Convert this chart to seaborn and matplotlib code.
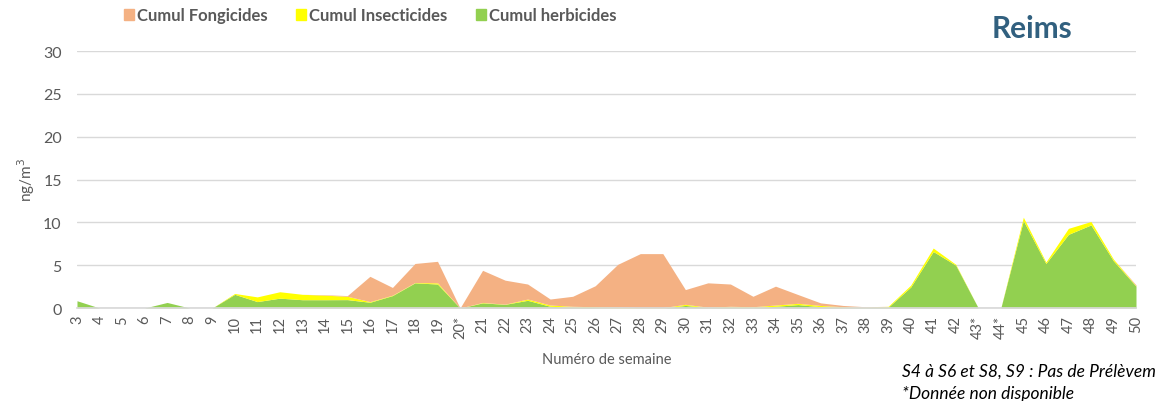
import numpy as np
import pandas as pd
import matplotlib.pyplot as plt
import seaborn as sns

# Weeks (x categories), * = data not available
weeks = ["3", "4", "5", "6", "7", "8", "9", "10", "11", "12", "13", "14", "15",
         "16", "17", "18", "19", "20*", "21", "22", "23", "24", "25", "26", "27",
         "28", "29", "30", "31", "32", "33", "34", "35", "36", "37", "38", "39",
         "40", "41", "42", "43*", "44*", "45", "46", "47", "48", "49", "50"]

# Values (ng/m3), per family
herbicides = [0.85, 0, 0, 0, 0.65, 0, 0, 1.6, 0.75, 1.15, 0.97, 0.97, 0.98,
              0.67, 1.45, 2.94, 2.8, 0, 0.6, 0.43, 0.9, 0.2, 0.1, 0.05, 0.0,
              0.0, 0.0, 0.3, 0.05, 0.1, 0.05, 0.2, 0.4, 0.15, 0.05, 0.05, 0.1,
              2.45, 6.6, 5.0, 0, 0, 10.2, 5.2, 8.6, 9.7, 5.5, 2.55]
insecticides = [0, 0, 0, 0, 0, 0, 0, 0.1, 0.55, 0.75, 0.63, 0.53, 0.39,
                0.08, 0.05, 0.04, 0.14, 0, 0.05, 0.02, 0.15, 0.15, 0.1, 0.1, 0.1,
                0.05, 0.05, 0.13, 0.05, 0.1, 0.1, 0.15, 0.15, 0.15, 0.1, 0.05, 0.1,
                0.22, 0.4, 0.1, 0, 0, 0.4, 0.17, 0.7, 0.4, 0.2, 0.05]
fongicides = [0, 0, 0, 0, 0, 0, 0, 0, 0, 0, 0, 0.05, 0.08,
              2.95, 0.9, 2.22, 2.51, 0, 3.75, 2.8, 1.75, 0.7, 1.17, 2.45, 5.0,
              6.3, 6.3, 1.72, 2.84, 2.6, 1.22, 2.2, 1.02, 0.3, 0.15, 0.05, 0.0,
              0, 0, 0, 0, 0, 0, 0, 0, 0, 0, 0.1]

df = pd.DataFrame({"semaine": weeks, "herbicides": herbicides,
                   "insecticides": insecticides, "fongicides": fongicides})

sns.set_theme(style="white")
plt.rcParams["font.family"] = ["Lato", "DejaVu Sans"]

c_fong = "#F4B183"
c_ins = "#FFFF00"
c_herb = "#92D050"
grey = "#595959"

fig = plt.figure(figsize=(11.56, 4.02), dpi=100)
ax = fig.add_axes([0.0666, 0.2313, 0.9161, 0.6393])

x = np.arange(len(df))
ax.stackplot(x, df["herbicides"], df["insecticides"], df["fongicides"],
             colors=[c_herb, c_ins, c_fong], linewidth=0)

ax.set_xlim(0, len(df) - 1)
ax.set_ylim(0, 30)
ax.set_yticks(range(0, 31, 5))
ax.yaxis.grid(True, color="#D9D9D9", linewidth=1)
ax.set_axisbelow(True)
ax.set_xticks(x)
ax.set_xticklabels(df["semaine"], rotation=90, fontsize=10.5, color=grey)
ax.tick_params(axis="y", labelsize=11.5, labelcolor=grey, length=0, pad=11)
ax.tick_params(axis="x", length=0, pad=5)
for s in ["top", "right", "left"]:
    ax.spines[s].set_visible(False)
ax.spines["bottom"].set_color("#D9D9D9")

ax.set_ylabel("ng/m$^3$", fontsize=11, color=grey, labelpad=4)
ax.set_xlabel("Numéro de semaine", fontsize=10.5, color=grey, labelpad=10)

# legend at top
handles = [plt.Rectangle((0, 0), 1, 1, color=c) for c in [c_fong, c_ins, c_herb]]
leg = fig.legend(handles, ["Cumul Fongicides", "Cumul Insecticides", "Cumul herbicides"],
                 loc="upper left", bbox_to_anchor=(0.094, 1.017), ncol=3, frameon=False,
                 handlelength=0.6, handleheight=0.6, handletextpad=0.2,
                 columnspacing=1.7, prop={"weight": "bold", "size": 12})
for t in leg.get_texts():
    t.set_color(grey)

fig.text(0.893, 0.928, "Reims", fontsize=21.5, fontweight="bold", color="#31607F",
         ha="center", va="center")

# notes (the first one runs off the right edge, as in the original)
fig.text(0.78, 0.075, "S4 à S6 et S8, S9 : Pas de Prélèvement", fontsize=12.5,
         style="italic", color="black", va="center")
fig.text(0.78, 0.02, "*Donnée non disponible", fontsize=12.5,
         style="italic", color="black", va="center")

fig.savefig("out.png", dpi=100)
